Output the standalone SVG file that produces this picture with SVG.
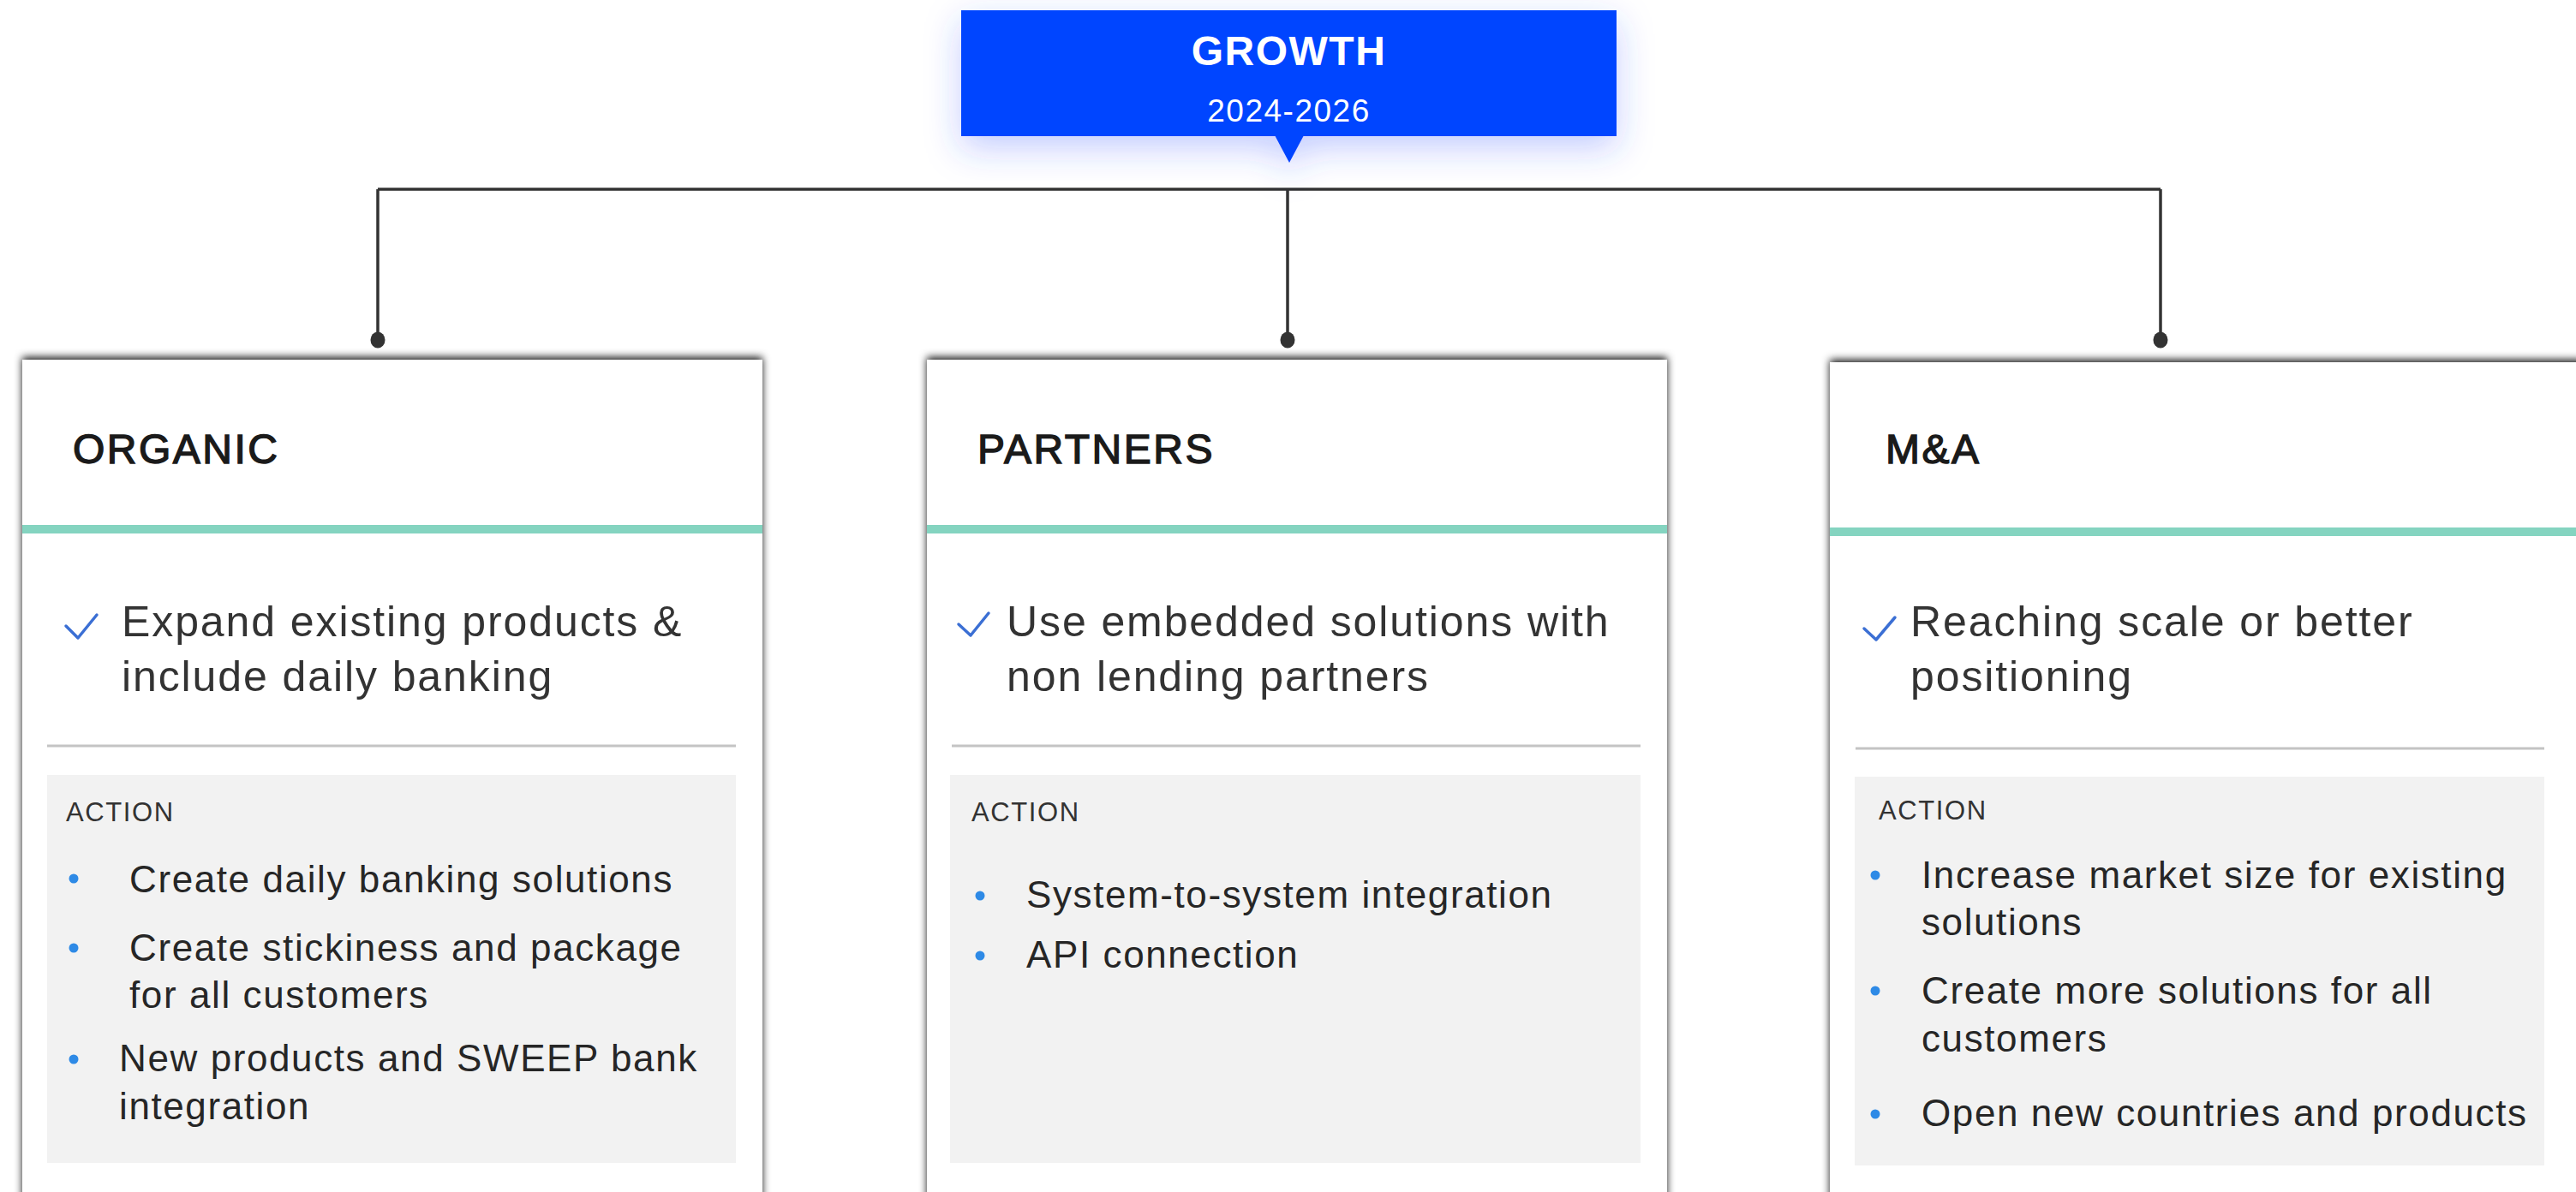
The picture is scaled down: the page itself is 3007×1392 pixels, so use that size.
<svg xmlns="http://www.w3.org/2000/svg" width="3007" height="1392" viewBox="0 0 3007 1392">
  <defs>
    <filter id="cardShadow" x="-5%" y="-5%" width="110%" height="110%">
      <feDropShadow dx="0" dy="-3" stdDeviation="5" flood-color="#000" flood-opacity="0.9"/>
    </filter>
    <filter id="glow" x="-20%" y="-50%" width="140%" height="220%">
      <feDropShadow dx="0" dy="14" stdDeviation="20" flood-color="#2a4cff" flood-opacity="0.28"/>
    </filter>
  </defs>
  <style>
    .card { fill: #ffffff; }
    .teal { fill: #84d4c0; }
    .sep { stroke: #c4c4c4; stroke-width: 3; }
    .panel { fill: #f2f2f2; }
    .head { font-family: "Liberation Sans", Arial, sans-serif; font-size: 48px; fill: #1a1a1a; stroke: #1a1a1a; stroke-width: 1.4; letter-spacing: 2.5px; }
    .main { font-family: "Liberation Sans", Arial, sans-serif; font-size: 50px; fill: #333333; letter-spacing: 1.9px; }
    .act { font-family: "Liberation Sans", Arial, sans-serif; font-size: 31px; fill: #333333; letter-spacing: 1.6px; }
    .item { font-family: "Liberation Sans", Arial, sans-serif; font-size: 44px; fill: #262626; letter-spacing: 1.6px; }
    .dot { fill: #2e8ae6; }
    .check { fill: none; stroke: #3b6fd4; stroke-width: 3.5; stroke-linecap: round; stroke-linejoin: round; }
    .conn { fill: none; stroke: #333333; stroke-width: 3.5; }
    .end { fill: #333333; }
    .title { font-family: "Liberation Sans", Arial, sans-serif; font-weight: bold; font-size: 48px; fill: #ffffff; letter-spacing: 1.5px; }
    .year { font-family: "Liberation Sans", Arial, sans-serif; font-size: 37px; fill: #ffffff; letter-spacing: 1.5px; }
  </style>
  <rect x="0" y="0" width="3007" height="1392" fill="#ffffff"/>

  <g id="connectors">
    <path class="conn" d="M441 221 H2522 M441 221 V397 M1503 221 V397 M2522 221 V397"/>
    <ellipse class="end" cx="441" cy="397" rx="8.5" ry="9.5"/>
    <ellipse class="end" cx="1503" cy="397" rx="8.5" ry="9.5"/>
    <ellipse class="end" cx="2522" cy="397" rx="8.5" ry="9.5"/>
  </g>

  <g id="growth">
    <g filter="url(#glow)">
      <rect x="1122" y="12" width="765" height="147" fill="#0645ff"/>
      <polygon points="1488,158 1522,158 1505,190" fill="#0645ff"/>
    </g>
    <text class="title" x="1504.5" y="76" text-anchor="middle">GROWTH</text>
    <text class="year" x="1504.5" y="142" text-anchor="middle">2024-2026</text>
  </g>

  <g id="organic">
    <rect class="card" x="26" y="420" width="864" height="990" filter="url(#cardShadow)"/>
    <text class="head" x="85" y="541">ORGANIC</text>
    <rect class="teal" x="26" y="613" width="864" height="10"/>
    <polyline class="check" points="77,731 91,745 113,718"/>
    <text class="main" x="142" y="743">Expand existing products &amp;</text>
    <text class="main" x="142" y="807">include daily banking</text>
    <line class="sep" x1="55" y1="871" x2="859" y2="871"/>
    <rect class="panel" x="55" y="905" width="804" height="453"/>
    <text class="act" x="77" y="959">ACTION</text>
    <circle class="dot" cx="86" cy="1026" r="5.5"/>
    <text class="item" x="151" y="1042">Create daily banking solutions</text>
    <circle class="dot" cx="86" cy="1107" r="5.5"/>
    <text class="item" x="151" y="1122">Create stickiness and package</text>
    <text class="item" x="151" y="1177">for all customers</text>
    <circle class="dot" cx="86" cy="1237" r="5.5"/>
    <text class="item" x="139" y="1251">New products and SWEEP bank</text>
    <text class="item" x="139" y="1307">integration</text>
  </g>

  <g id="partners">
    <rect class="card" x="1082" y="420" width="864" height="990" filter="url(#cardShadow)"/>
    <text class="head" x="1141" y="541">PARTNERS</text>
    <rect class="teal" x="1082" y="613" width="864" height="10"/>
    <polyline class="check" points="1119,729 1133,742 1154,716"/>
    <text class="main" x="1175" y="743">Use embedded solutions with</text>
    <text class="main" x="1175" y="807">non lending partners</text>
    <line class="sep" x1="1111" y1="871" x2="1915" y2="871"/>
    <rect class="panel" x="1109" y="905" width="806" height="453"/>
    <text class="act" x="1134" y="959">ACTION</text>
    <circle class="dot" cx="1144" cy="1046" r="5.5"/>
    <text class="item" x="1198" y="1060">System-to-system integration</text>
    <circle class="dot" cx="1144" cy="1116" r="5.5"/>
    <text class="item" x="1198" y="1130">API connection</text>
  </g>

  <g id="ma">
    <rect class="card" x="2136" y="423" width="880" height="990" filter="url(#cardShadow)"/>
    <text class="head" x="2201" y="541">M&amp;A</text>
    <rect class="teal" x="2136" y="616" width="880" height="10"/>
    <polyline class="check" points="2176,734 2190,747 2212,721"/>
    <text class="main" x="2230" y="743">Reaching scale or better</text>
    <text class="main" x="2230" y="807">positioning</text>
    <line class="sep" x1="2166" y1="874" x2="2970" y2="874"/>
    <rect class="panel" x="2165" y="907" width="805" height="454"/>
    <text class="act" x="2193" y="957">ACTION</text>
    <circle class="dot" cx="2189" cy="1022" r="5.5"/>
    <text class="item" x="2243" y="1037">Increase market size for existing</text>
    <text class="item" x="2243" y="1092">solutions</text>
    <circle class="dot" cx="2189" cy="1157" r="5.5"/>
    <text class="item" x="2243" y="1172">Create more solutions for all</text>
    <text class="item" x="2243" y="1228">customers</text>
    <circle class="dot" cx="2189" cy="1301" r="5.5"/>
    <text class="item" x="2243" y="1315">Open new countries and products</text>
  </g>
</svg>
